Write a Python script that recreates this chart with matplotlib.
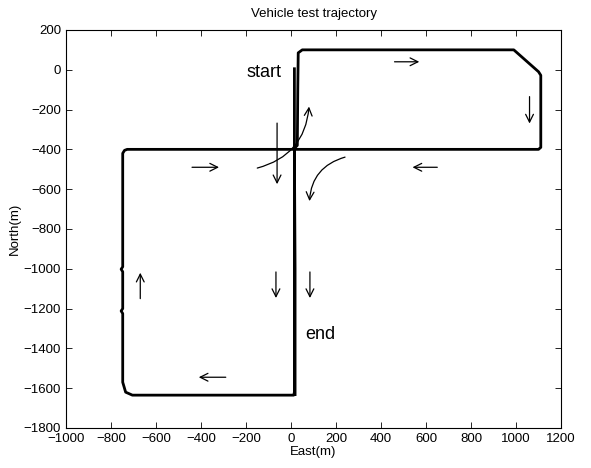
import matplotlib

matplotlib.use('Agg')

import matplotlib.pyplot as plt

plt.rcParams['font.family'] = ['Liberation Sans', 'DejaVu Sans']

# Vehicle path, east/north in metres, in driving order
east = [15, 15, 15, 12, -705, -735, -748, -748, -755, -748, -748, -755, -748, -748,
        -740, -728, 10, 28, 30, 32, 50, 990, 1045, 1100, 1110, 1110, 1100, 15, 18, 18]
north = [5, -400, -1620, -1635, -1635, -1620, -1570, -1225, -1212, -1200, -1015,
         -1002, -990, -420, -405, -400, -400, -380, -100, 85, 100, 100, 45, -10, -28,
         -390, -400, -400, -1000, -1632]

# Direction arrows: (x_from, y_from, x_to, y_to)
arrows_from_x = [460, 1060, 650, -440, -670, -290, -67, 84, -62]
arrows_from_y = [40, -135, -490, -490, -1150, -1545, -1016, -1016, -268]
arrows_to_x = [570, 1060, 540, -320, -670, -410, -67, 84, -62]
arrows_to_y = [40, -270, -490, -490, -1020, -1545, -1147, -1147, -575]

# Turning arrows at the crossing
turn_start = [(-150, -494), (240, -439)]
turn_end = [(80, -185), (82, -660)]
turn_rad = [0.35, 0.35]

fig = plt.figure(figsize=(5.91, 4.68), dpi=100)
ax = fig.add_axes([0.1117, 0.0855, 0.8376, 0.8505])

ax.plot(east, north, color='black', linewidth=2.0, solid_joinstyle='round')

for x0, y0, x1, y1 in zip(arrows_from_x, arrows_from_y, arrows_to_x, arrows_to_y):
    ax.annotate('', xy=(x1, y1), xytext=(x0, y0),
                arrowprops=dict(arrowstyle='->', color='black', lw=0.9,
                                mutation_scale=14, shrinkA=0, shrinkB=0))

for (x0, y0), (x1, y1), rad in zip(turn_start, turn_end, turn_rad):
    ax.annotate('', xy=(x1, y1), xytext=(x0, y0),
                arrowprops=dict(arrowstyle='->', color='black', lw=0.9,
                                mutation_scale=14, shrinkA=0, shrinkB=0,
                                connectionstyle=f'arc3,rad={rad}'))

ax.text(-200, -15, 'start', fontsize=13, ha='left', va='center')
ax.text(62, -1332, 'end', fontsize=13, ha='left', va='center')

ax.set_xlim(-1000, 1200)
ax.set_ylim(-1800, 200)
ax.set_xticks(range(-1000, 1201, 200))
ax.set_yticks(range(-1800, 201, 200))
ax.tick_params(direction='in', top=True, right=True, labelsize=9.5, length=4, width=0.6)
for s in ax.spines.values():
    s.set_linewidth(0.8)

ax.set_title('Vehicle test trajectory', fontsize=9.5, pad=9)
ax.set_xlabel('East(m)', fontsize=9.5, labelpad=1)
ax.set_ylabel('North(m)', fontsize=9.5, labelpad=2)

fig.savefig('out.png', dpi=100, facecolor='white')
